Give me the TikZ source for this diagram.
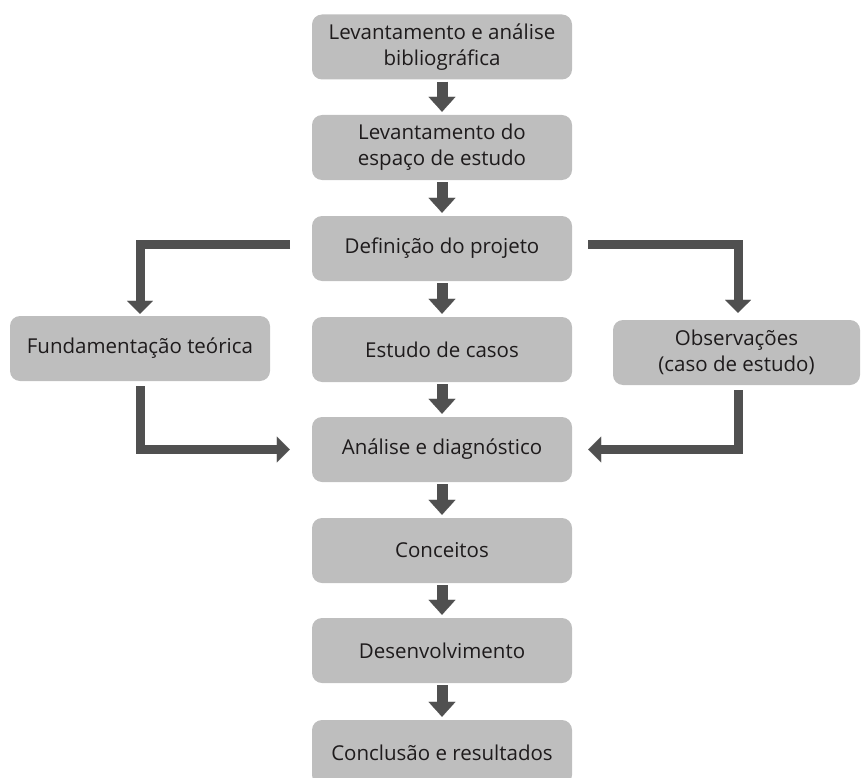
\documentclass[tikz,border=0pt]{standalone}
\usepackage{fontspec}
\setmainfont{Open Sans}
\usetikzlibrary{arrows.meta}
\definecolor{boxgray}{RGB}{190,190,190}
\definecolor{arrgray}{RGB}{80,80,80}
\definecolor{txtcol}{RGB}{30,27,28}
\begin{document}
\begin{tikzpicture}[x=1pt,y=-1pt,
  box/.style={fill=boxgray, rounded corners=10pt, minimum width=260pt, minimum height=65pt,
    align=center, text=txtcol, font=\fontsize{20.5}{26}\selectfont, inner sep=0pt},
  flow/.style={draw=arrgray, line width=11pt,
    -{Triangle[width=27pt,length=15pt,line width=0.1pt]}, shorten <=2pt, shorten >=3pt},
  elbow/.style={draw=arrgray, line width=9pt,
    -{Triangle[width=26pt,length=13pt,line width=0.1pt]}}]
\clip (0,0) rectangle (861,778);
\node[box] (b1) at (442,47)    {Levantamento e análise\\bibliográfica};
\node[box] (b2) at (442,147.5) {Levantamento do\\espaço de estudo};
\node[box] (b3) at (442,248.5) {Definição do projeto};
\node[box] (b4) at (442,349.5) {Estudo de casos};
\node[box] (b5) at (442,449.5) {Análise e diagnóstico};
\node[box] (b6) at (442,550.5) {Conceitos};
\node[box] (b7) at (442,650.5) {Desenvolvimento};
\node[box] (b8) at (442,752.5) {Conclusão e resultados};
\node[box] (fund) at (140,348.5) {Fundamentação teórica};
\node[box, minimum width=247pt] (obs) at (736.5,352.5) {Observações\\(caso de estudo)};

\draw[flow] (b1) -- (b2);
\draw[flow] (b2) -- (b3);
\draw[flow] (b3) -- (b4);
\draw[flow] (b4) -- (b5);
\draw[flow] (b5) -- (b6);
\draw[flow] (b6) -- (b7);
\draw[flow] (b7) -- (b8);

\coordinate (lstart) at (290,244);
\coordinate (rstart) at (588,244);
\draw[elbow, shorten >=2pt] (lstart) -| (fund.north);
\draw[elbow, shorten >=7pt] (rstart) -| ([xshift=1.5pt]obs.north);
\draw[elbow, shorten <=5pt, shorten >=22pt] (fund.south) |- (b5.west);
\draw[elbow, shorten <=5pt, shorten >=16pt] ([xshift=1.5pt]obs.south) |- (b5.east);
\end{tikzpicture}
\end{document}
